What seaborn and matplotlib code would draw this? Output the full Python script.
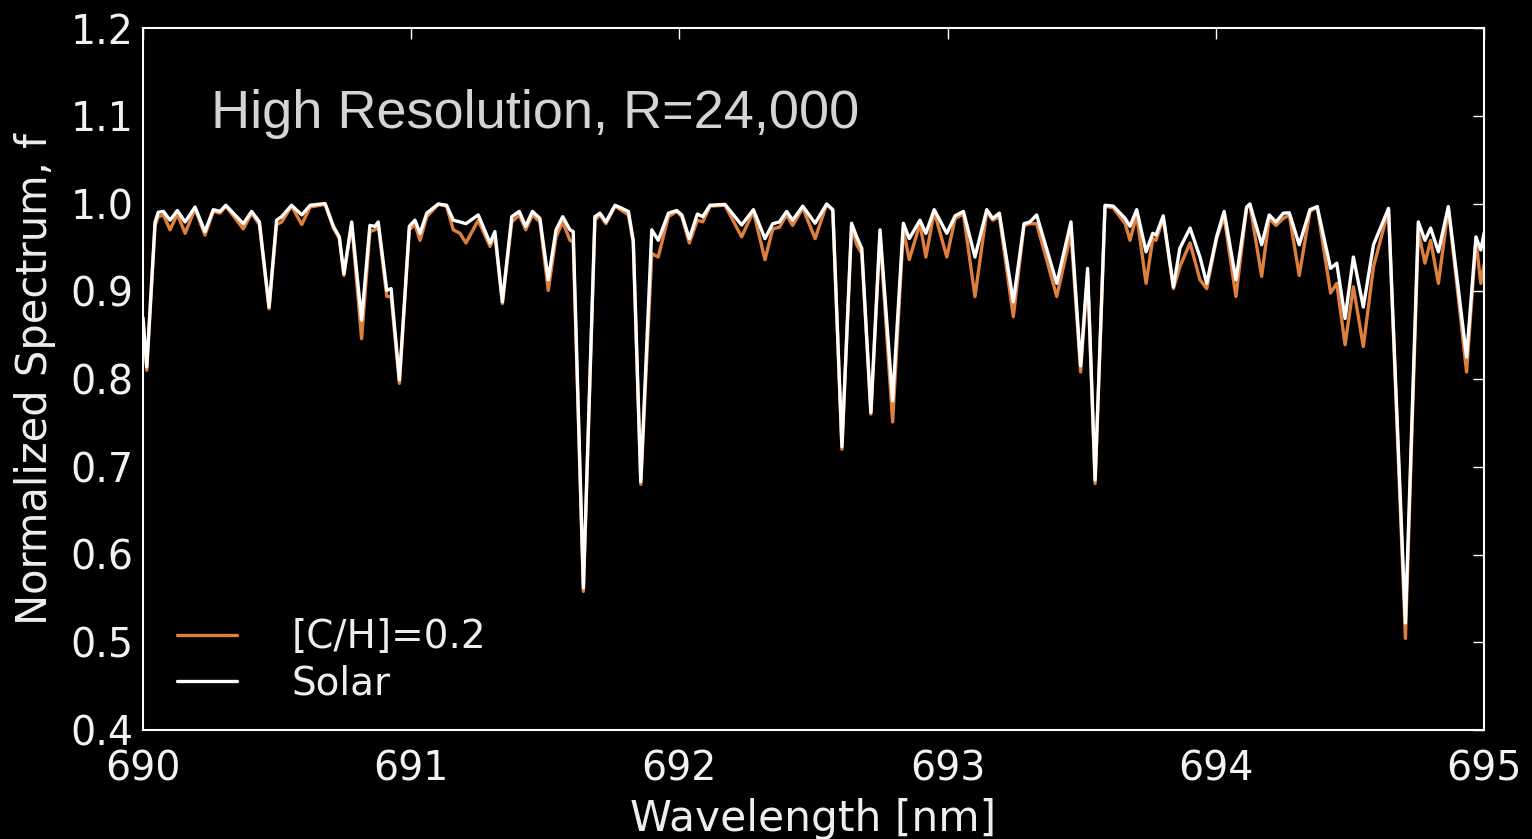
import numpy as np
import pandas as pd
import matplotlib
matplotlib.use("Agg")
import matplotlib.pyplot as plt
import seaborn as sns

wavelength = [690.000, 690.014, 690.045, 690.057, 690.076, 690.101, 690.128, 690.157, 690.194, 690.231,
              690.262, 690.287, 690.309, 690.374, 690.405, 690.434, 690.470, 690.498, 690.517, 690.554,
              690.592, 690.623, 690.679, 690.710, 690.732, 690.749, 690.778, 690.815, 690.846, 690.865,
              690.877, 690.909, 690.925, 690.956, 690.993, 691.014, 691.033, 691.058, 691.101, 691.132,
              691.157, 691.182, 691.204, 691.250, 691.294, 691.312, 691.340, 691.375, 691.403, 691.427,
              691.452, 691.480, 691.511, 691.540, 691.565, 691.592, 691.604, 691.642, 691.685, 691.704,
              691.726, 691.760, 691.785, 691.810, 691.828, 691.856, 691.897, 691.921, 691.959, 691.990,
              692.009, 692.037, 692.067, 692.087, 692.114, 692.170, 692.232, 692.276, 692.319, 692.348,
              692.373, 692.400, 692.422, 692.460, 692.506, 692.549, 692.572, 692.606, 692.642, 692.661,
              692.680, 692.714, 692.748, 692.795, 692.835, 692.857, 692.897, 692.919, 692.950, 692.997,
              693.028, 693.059, 693.102, 693.146, 693.168, 693.193, 693.245, 693.285, 693.307, 693.332,
              693.407, 693.460, 693.496, 693.522, 693.550, 693.587, 693.618, 693.662, 693.680, 693.705,
              693.740, 693.765, 693.777, 693.804, 693.842, 693.866, 693.904, 693.941, 693.966, 694.003,
              694.031, 694.075, 694.115, 694.127, 694.171, 694.199, 694.224, 694.252, 694.274, 694.311,
              694.351, 694.378, 694.428, 694.451, 694.482, 694.513, 694.550, 694.588, 694.644, 694.707,
              694.755, 694.780, 694.801, 694.830, 694.867, 694.935, 694.970, 694.988, 695.000]

flux_solar = [0.870, 0.814, 0.979, 0.990, 0.991, 0.981, 0.992, 0.979, 0.996, 0.968,
              0.993, 0.991, 0.998, 0.977, 0.991, 0.979, 0.882, 0.981, 0.985, 0.998,
              0.987, 0.998, 1.000, 0.974, 0.962, 0.920, 0.979, 0.867, 0.975, 0.974,
              0.979, 0.901, 0.903, 0.799, 0.974, 0.981, 0.966, 0.989, 0.9995, 0.998,
              0.981, 0.979, 0.977, 0.987, 0.955, 0.968, 0.888, 0.985, 0.991, 0.974,
              0.991, 0.983, 0.913, 0.970, 0.985, 0.970, 0.968, 0.562, 0.985, 0.989,
              0.979, 0.998, 0.9945, 0.991, 0.958, 0.683, 0.970, 0.958, 0.989, 0.992,
              0.987, 0.960, 0.988, 0.985, 0.998, 0.999, 0.9755, 0.993, 0.960, 0.977,
              0.979, 0.991, 0.981, 0.997, 0.9775, 0.9995, 0.993, 0.723, 0.9775, 0.962,
              0.949, 0.762, 0.970, 0.775, 0.9775, 0.960, 0.981, 0.966, 0.993, 0.966,
              0.986, 0.991, 0.939, 0.993, 0.983, 0.989, 0.888, 0.977, 0.979, 0.987,
              0.909, 0.979, 0.815, 0.926, 0.685, 0.998, 0.997, 0.983, 0.974, 0.993,
              0.945, 0.966, 0.964, 0.986, 0.905, 0.949, 0.972, 0.939, 0.909, 0.962,
              0.991, 0.913, 0.996, 0.9995, 0.953, 0.987, 0.979, 0.989, 0.9895, 0.953,
              0.993, 0.9965, 0.926, 0.932, 0.869, 0.939, 0.882, 0.953, 0.9945, 0.522,
              0.979, 0.958, 0.972, 0.945, 0.9965, 0.825, 0.962, 0.947, 0.966]

flux_carbon = [0.865, 0.810, 0.975, 0.985, 0.987, 0.970, 0.988, 0.966, 0.994, 0.964,
               0.991, 0.989, 0.997, 0.971, 0.989, 0.976, 0.880, 0.976, 0.979, 0.997,
               0.976, 0.996, 0.999, 0.972, 0.960, 0.918, 0.977, 0.846, 0.968, 0.970,
               0.975, 0.894, 0.894, 0.795, 0.970, 0.976, 0.958, 0.985, 0.999, 0.997,
               0.970, 0.966, 0.955, 0.981, 0.951, 0.964, 0.886, 0.979, 0.987, 0.970,
               0.987, 0.979, 0.901, 0.962, 0.979, 0.958, 0.956, 0.558, 0.981, 0.987,
               0.977, 0.997, 0.992, 0.987, 0.955, 0.680, 0.943, 0.939, 0.985, 0.991,
               0.985, 0.955, 0.981, 0.979, 0.997, 0.998, 0.962, 0.991, 0.936, 0.971,
               0.973, 0.987, 0.975, 0.995, 0.960, 0.999, 0.992, 0.720, 0.974, 0.953,
               0.943, 0.760, 0.964, 0.751, 0.970, 0.936, 0.977, 0.939, 0.991, 0.939,
               0.983, 0.988, 0.894, 0.991, 0.981, 0.985, 0.871, 0.975, 0.977, 0.977,
               0.894, 0.966, 0.808, 0.920, 0.681, 0.997, 0.995, 0.977, 0.958, 0.987,
               0.909, 0.960, 0.958, 0.983, 0.903, 0.928, 0.955, 0.913, 0.903, 0.960,
               0.985, 0.894, 0.995, 0.999, 0.917, 0.983, 0.975, 0.983, 0.987, 0.918,
               0.991, 0.996, 0.898, 0.909, 0.839, 0.905, 0.837, 0.928, 0.993, 0.5045,
               0.968, 0.932, 0.958, 0.909, 0.995, 0.808, 0.958, 0.909, 0.930]

series_labels = ["[C/H]=0.2", "Solar"]
series_colors = ["#DE7F3E", "#FFFFFF"]
x_ticks = [690, 691, 692, 693, 694, 695]
y_ticks = [0.4, 0.5, 0.6, 0.7, 0.8, 0.9, 1.0, 1.1, 1.2]

df = pd.DataFrame({
    "Wavelength": wavelength * 2,
    "Flux": flux_carbon + flux_solar,
    "Series": [series_labels[0]] * len(wavelength) + [series_labels[1]] * len(wavelength),
})

sns.set_theme(style="dark", rc={
    "figure.facecolor": "black", "axes.facecolor": "black",
    "axes.edgecolor": "white", "axes.linewidth": 1.5,
    "text.color": "white", "xtick.color": "white", "ytick.color": "white",
    "axes.labelcolor": "#EEEEEE", "axes.grid": False,
})
plt.rcParams["font.family"] = ["DejaVu Sans"]

fig = plt.figure(figsize=(15.32, 8.39), dpi=100)
ax = fig.add_axes([143 / 1532, 1 - 730 / 839, (1484 - 143) / 1532, (730 - 28) / 839])

sns.lineplot(data=df, x="Wavelength", y="Flux", hue="Series", hue_order=series_labels,
             palette=dict(zip(series_labels, series_colors)), linewidth=2.4,
             estimator=None, sort=False, ax=ax)

ax.set_xlim(690, 695)
ax.set_ylim(0.4, 1.2)
ax.set_xticks(x_ticks)
ax.set_xticklabels([str(t) for t in x_ticks])
ax.set_yticks(y_ticks)
ax.set_yticklabels([f"{t:.1f}" for t in y_ticks])
ax.tick_params(axis="both", which="major", direction="in", length=8, width=1,
               labelsize=28.5, top=True, right=True, colors="white",
               labelcolor="#F2F2F2")
ax.tick_params(axis="y", pad=7)
ax.tick_params(axis="x", pad=14)
ax.set_xlabel("Wavelength [nm]", fontsize=30.5, color="#EEEEEE", labelpad=6)
ax.set_ylabel("Normalized Spectrum, f", fontsize=30, color="#EEEEEE", labelpad=10)

ax.text(0.051, 0.857, "High Resolution, R=24,000", transform=ax.transAxes,
        fontsize=39, color="#D4D4D4", family=["Liberation Sans", "DejaVu Sans"],
        ha="left", va="baseline")

leg = ax.legend(loc="lower left", bbox_to_anchor=(0.005, 0.0), frameon=False,
                fontsize=28, handlelength=1.55, handletextpad=1.4,
                labelspacing=0.22, borderaxespad=0.3)
for t in leg.get_texts():
    t.set_color("#EEEEEE")
for h in leg.get_lines():
    h.set_linewidth(2.4)

fig.savefig("out.png", dpi=100, facecolor="black")
